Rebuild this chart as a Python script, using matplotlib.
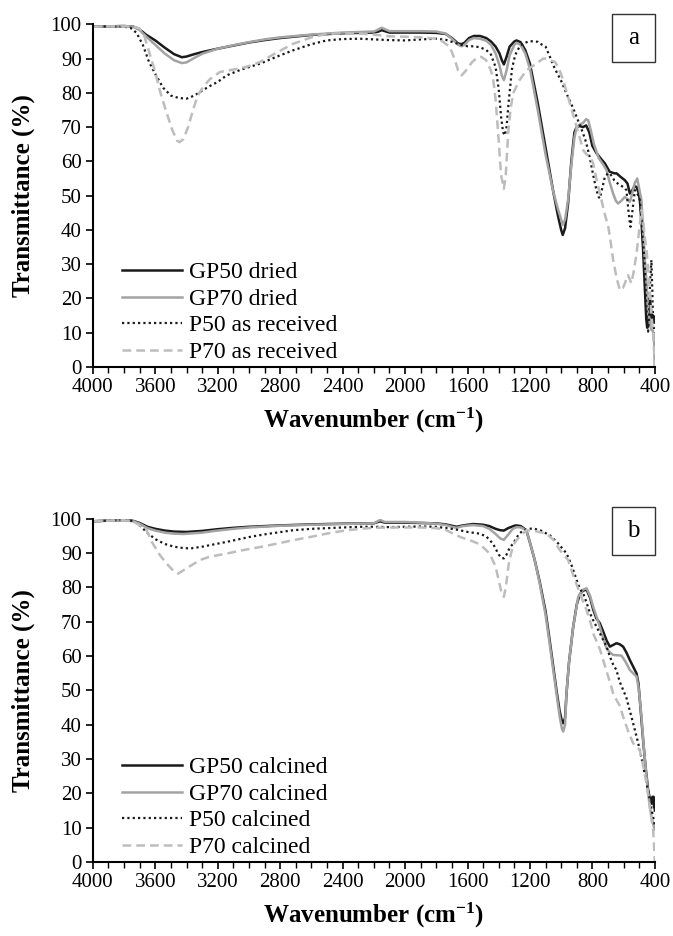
import matplotlib
matplotlib.use("Agg")
import matplotlib.pyplot as plt
from matplotlib.patches import Rectangle
from matplotlib.ticker import MultipleLocator

plt.rcParams['font.family'] = ['Liberation Serif', 'DejaVu Serif']
plt.rcParams['mathtext.fontset'] = 'custom'
plt.rcParams['mathtext.rm'] = 'Liberation Serif:bold'
plt.rcParams['mathtext.bf'] = 'Liberation Serif:bold'
plt.rcParams['mathtext.default'] = 'bf'

# ---- panel a : dried / as received ----
wn_gp50_dried = [4000, 3900, 3800, 3740, 3700, 3660, 3600, 3540, 3480, 3430, 3400, 3350, 3300, 3200, 3100,
                 3000, 2900, 2800, 2600, 2400, 2200, 2170, 2150, 2100, 1900, 1800, 1740, 1700, 1660, 1640,
                 1620, 1590, 1560, 1520, 1480, 1450, 1420, 1395, 1380, 1367, 1350, 1330, 1300, 1286, 1260,
                 1230, 1200, 1150, 1100, 1050, 1020, 1000, 990, 975, 955, 935, 915, 900, 880, 860, 840, 820,
                 800, 775, 750, 720, 690, 660, 645, 620, 592, 575, 560, 545, 530, 517, 505, 496, 485, 475,
                 465, 455, 449, 440, 432, 425, 418, 410, 405, 400]
t_gp50_dried = [99.3, 99.4, 99.5, 99.3, 98.5, 97.0, 95.3, 93.2, 91.3, 90.4, 90.6, 91.3, 91.9, 92.9, 93.8,
                94.7, 95.4, 96.0, 96.9, 97.4, 97.6, 97.9, 98.3, 97.6, 97.6, 97.5, 97.2, 96.0, 94.4, 94.2,
                94.6, 96.0, 96.6, 96.6, 96.0, 95.0, 93.5, 91.5, 89.5, 88.3, 90.5, 93.5, 95.0, 95.3, 94.8,
                92.5, 88.5, 77.0, 64.0, 51.0, 44.0, 40.0, 38.5, 40.5, 48.0, 60.0, 68.5, 70.1, 70.3, 70.0,
                70.5, 68.5, 64.5, 62.5, 61.0, 59.4, 57.0, 56.5, 56.5, 55.5, 54.5, 53.5, 50.6, 51.5, 52.8,
                52.5, 51.0, 48.7, 42.0, 34.0, 24.0, 14.0, 11.5, 13.0, 20.0, 17.0, 13.0, 15.0, 14.0, 13.0]

wn_gp70_dried = [4000, 3900, 3800, 3740, 3700, 3660, 3600, 3540, 3480, 3430, 3400, 3350, 3300, 3200, 3100,
                 3000, 2900, 2800, 2600, 2400, 2200, 2170, 2150, 2100, 1900, 1800, 1740, 1700, 1660, 1640,
                 1620, 1590, 1560, 1520, 1480, 1450, 1420, 1395, 1380, 1367, 1350, 1330, 1300, 1286, 1260,
                 1230, 1200, 1150, 1100, 1050, 1020, 1000, 990, 975, 955, 935, 915, 900, 880, 860, 840, 827,
                 810, 790, 760, 730, 709, 690, 667, 650, 635, 615, 592, 575, 560, 545, 530, 513, 500, 486,
                 475, 465, 453, 443, 432, 422, 412, 405, 402, 400]
t_gp70_dried = [99.3, 99.4, 99.5, 99.3, 98.3, 96.5, 94.0, 91.5, 89.5, 88.7, 88.9, 90.2, 91.4, 92.9, 93.9,
                94.8, 95.6, 96.2, 97.0, 97.6, 97.9, 98.5, 99.0, 98.0, 98.0, 97.9, 97.3, 95.8, 94.0, 93.6,
                94.0, 95.4, 96.0, 95.8, 95.2, 94.0, 91.5, 88.0, 85.0, 83.7, 86.5, 91.0, 94.0, 94.6, 94.0,
                91.5, 87.0, 75.0, 62.0, 51.0, 46.0, 43.0, 41.5, 43.0, 49.0, 59.0, 67.0, 70.0, 70.8, 71.2,
                72.3, 72.0, 69.0, 65.0, 61.0, 59.0, 57.4, 54.0, 50.6, 48.5, 47.7, 48.5, 49.6, 49.0, 48.2,
                50.5, 53.5, 55.0, 52.0, 48.7, 40.0, 32.0, 24.4, 16.0, 12.5, 10.8, 10.5, 8.0, 3.0, 0.0]

wn_p50_received = [4000, 3900, 3800, 3760, 3720, 3680, 3640, 3600, 3550, 3500, 3450, 3400, 3350, 3295, 3250,
                   3200, 3143, 3050, 2930, 2820, 2718, 2600, 2503, 2400, 2290, 2200, 2100, 2000, 1900, 1800,
                   1740, 1694, 1640, 1600, 1560, 1520, 1480, 1450, 1420, 1400, 1385, 1372, 1361, 1350, 1335,
                   1315, 1295, 1270, 1240, 1200, 1150, 1137, 1100, 1072, 1040, 1000, 966, 930, 901, 880, 859,
                   840, 816, 795, 774, 760, 752, 740, 720, 700, 688, 660, 630, 600, 582, 570, 560, 556, 545,
                   528, 515, 496, 480, 464, 455, 448, 443, 437, 430, 422, 416, 411, 405, 400]
t_p50_received = [99.3, 99.4, 99.3, 99.0, 97.5, 94.0, 89.0, 85.5, 81.5, 79.2, 78.5, 78.3, 79.2, 80.8, 82.0,
                  83.2, 85.1, 86.8, 88.5, 90.6, 92.4, 94.2, 95.3, 95.7, 95.8, 95.6, 95.4, 95.3, 95.6, 95.8,
                  95.5, 94.8, 94.0, 93.6, 93.6, 93.3, 92.5, 91.2, 87.5, 81.0, 73.0, 68.5, 67.6, 70.0, 78.0,
                  87.0, 91.0, 93.2, 94.5, 95.1, 94.9, 94.4, 93.5, 90.5, 87.0, 83.5, 79.8, 76.2, 73.0, 70.5,
                  68.1, 65.5, 61.0, 56.0, 51.6, 49.6, 49.2, 51.5, 55.5, 56.5, 56.5, 54.5, 53.2, 52.5, 51.6,
                  46.0, 42.0, 40.9, 45.0, 51.6, 51.0, 48.7, 40.0, 29.2, 18.0, 12.0, 10.3, 15.0, 25.0, 31.2,
                  22.0, 12.8, 11.0, 10.0]

wn_p70_received = [4000, 3900, 3800, 3740, 3700, 3670, 3640, 3600, 3570, 3530, 3490, 3460, 3445, 3420, 3390,
                   3359, 3330, 3295, 3250, 3186, 3100, 3015, 2930, 2820, 2718, 2600, 2503, 2400, 2290, 2200,
                   2100, 2000, 1900, 1800, 1760, 1713, 1680, 1660, 1638, 1610, 1570, 1540, 1511, 1480, 1450,
                   1437, 1420, 1400, 1385, 1367, 1355, 1340, 1325, 1308, 1270, 1222, 1160, 1115, 1094, 1040,
                   1019, 987, 944, 901, 859, 837, 816, 795, 770, 742, 720, 698, 680, 667, 645, 624, 605, 592,
                   572, 560, 550, 535, 517, 500, 486, 475, 465, 453, 440, 425, 411, 405, 400]
t_p70_received = [99.3, 99.4, 99.4, 99.3, 98.8, 96.5, 92.0, 86.0, 80.5, 74.5, 69.0, 66.0, 65.6, 66.5, 70.0,
                  74.9, 79.0, 81.7, 84.0, 86.1, 86.8, 87.6, 89.0, 91.8, 94.3, 96.2, 97.2, 97.4, 97.3, 97.0,
                  96.5, 96.4, 96.2, 95.8, 95.0, 93.4, 89.5, 86.5, 85.1, 86.5, 89.0, 90.2, 90.5, 89.5, 86.5,
                  84.6, 78.0, 66.0, 56.0, 52.0, 56.0, 68.0, 75.0, 79.8, 83.5, 86.6, 88.5, 90.0, 90.0, 89.0,
                  87.6, 83.7, 76.9, 70.1, 63.3, 62.0, 61.5, 59.4, 54.0, 48.7, 44.5, 40.9, 35.5, 31.2, 26.0,
                  22.4, 23.0, 24.4, 26.8, 25.5, 24.4, 28.0, 33.1, 40.0, 45.8, 43.0, 38.0, 34.1, 27.0, 17.0,
                  9.9, 5.0, 0.0]

# ---- panel b : calcined ----
wn_gp50_calc = [4000, 3900, 3800, 3740, 3700, 3650, 3600, 3540, 3480, 3400, 3300, 3200, 3100, 3000, 2800,
                2600, 2400, 2200, 2160, 2130, 2000, 1900, 1800, 1740, 1700, 1670, 1630, 1564, 1500, 1460,
                1420, 1390, 1367, 1340, 1300, 1286, 1260, 1240, 1222, 1200, 1170, 1137, 1100, 1072, 1051,
                1030, 1010, 995, 987, 975, 966, 950, 923, 900, 880, 860, 837, 815, 795, 775, 752, 730, 709,
                688, 667, 646, 625, 603, 582, 560, 540, 517, 505, 496, 485, 475, 460, 443, 430, 420, 415,
                411, 408, 405, 402, 400]
t_gp50_calc = [99.2, 99.4, 99.6, 99.3, 98.7, 97.6, 97.0, 96.5, 96.2, 96.1, 96.4, 96.9, 97.3, 97.6, 98.0,
               98.3, 98.5, 98.6, 99.2, 98.8, 98.8, 98.7, 98.6, 98.3, 97.9, 97.6, 98.0, 98.4, 98.2, 97.8,
               97.0, 96.6, 96.5, 97.2, 97.9, 98.0, 97.8, 97.2, 96.4, 93.0, 88.0, 81.5, 73.0, 64.0, 57.0,
               50.0, 44.0, 41.0, 40.4, 42.0, 49.0, 58.0, 68.5, 75.0, 78.0, 79.0, 79.3, 77.0, 73.5, 71.0,
               69.5, 67.0, 64.5, 62.7, 63.2, 63.7, 63.4, 62.7, 61.0, 58.8, 57.0, 54.9, 52.0, 47.2, 41.0,
               35.5, 28.0, 21.0, 18.0, 17.0, 19.0, 17.5, 19.0, 16.0, 17.0, 15.0]

wn_gp70_calc = [4000, 3900, 3800, 3740, 3700, 3650, 3600, 3540, 3480, 3420, 3300, 3200, 3100, 3000, 2800,
                2600, 2400, 2200, 2160, 2130, 2000, 1900, 1800, 1740, 1700, 1670, 1630, 1564, 1500, 1460,
                1420, 1390, 1367, 1345, 1310, 1286, 1260, 1240, 1222, 1200, 1170, 1137, 1100, 1072, 1051,
                1030, 1010, 995, 987, 975, 966, 950, 923, 891, 860, 837, 815, 795, 770, 752, 730, 709, 688,
                667, 640, 614, 590, 560, 540, 517, 505, 496, 485, 475, 460, 443, 430, 420, 410, 405, 400]
t_gp70_calc = [99.2, 99.4, 99.5, 99.2, 98.5, 97.2, 96.5, 95.9, 95.6, 95.5, 95.9, 96.5, 97.0, 97.4, 97.9,
               98.2, 98.4, 98.6, 99.6, 99.0, 99.0, 98.8, 98.5, 98.1, 97.6, 97.3, 97.8, 98.1, 97.8, 97.0,
               95.5, 94.2, 93.8, 95.0, 97.0, 97.5, 97.4, 97.0, 96.4, 93.0, 88.0, 81.0, 72.0, 63.0, 56.0,
               49.0, 42.5, 38.8, 38.0, 40.0, 49.1, 58.0, 68.5, 77.2, 79.3, 79.7, 77.5, 74.3, 71.0, 68.5,
               65.0, 62.2, 61.0, 60.3, 60.2, 60.1, 58.5, 55.9, 55.0, 54.0, 51.0, 47.2, 42.0, 36.0, 28.0,
               20.0, 15.5, 13.0, 11.0, 10.0, 9.5]

wn_p50_calc = [4000, 3900, 3800, 3740, 3700, 3650, 3600, 3540, 3480, 3420, 3375, 3300, 3200, 3143, 3000,
               2900, 2717, 2600, 2400, 2290, 2200, 2100, 2000, 1900, 1800, 1700, 1650, 1600, 1522, 1480,
               1437, 1400, 1380, 1367, 1350, 1330, 1308, 1270, 1243, 1210, 1179, 1130, 1072, 1020, 965,
               930, 901, 880, 859, 837, 816, 795, 752, 709, 688, 667, 646, 625, 603, 582, 560, 539, 517,
               496, 475, 453, 432, 420, 411, 405, 400]
t_p50_calc = [99.2, 99.4, 99.6, 99.3, 98.0, 95.8, 94.0, 92.6, 91.8, 91.4, 91.3, 91.8, 92.7, 93.2, 94.6,
              95.4, 96.6, 97.0, 97.4, 97.6, 97.6, 97.5, 97.6, 97.7, 97.6, 97.0, 96.6, 96.1, 95.6, 94.8,
              92.7, 89.5, 88.5, 88.4, 89.5, 91.5, 92.7, 95.5, 96.6, 97.0, 97.1, 96.5, 95.1, 92.8, 89.8,
              86.0, 82.1, 79.5, 78.2, 75.5, 72.5, 70.4, 66.6, 62.7, 59.8, 57.5, 55.9, 52.5, 50.1, 47.8,
              44.0, 40.4, 36.5, 32.6, 28.0, 23.0, 18.0, 15.0, 13.3, 11.5, 10.5]

wn_p70_calc = [4000, 3900, 3800, 3740, 3700, 3656, 3620, 3570, 3520, 3480, 3453, 3400, 3315, 3250, 3143,
               3050, 2930, 2820, 2717, 2600, 2503, 2400, 2290, 2200, 2100, 2000, 1900, 1800, 1740, 1692,
               1640, 1586, 1520, 1458, 1420, 1395, 1380, 1367, 1355, 1335, 1310, 1286, 1250, 1222, 1170,
               1094, 1050, 1008, 955, 923, 880, 837, 816, 790, 752, 731, 709, 688, 667, 646, 624, 603, 570,
               539, 517, 496, 475, 453, 432, 420, 411, 405, 400]
t_p70_calc = [99.2, 99.4, 99.5, 99.2, 98.0, 96.6, 93.0, 89.3, 86.5, 84.6, 84.0, 85.5, 87.9, 88.9, 89.8,
              90.7, 91.7, 92.7, 93.7, 94.7, 95.6, 96.4, 97.0, 97.3, 97.4, 97.4, 97.4, 97.2, 96.7, 95.6,
              94.5, 93.7, 92.5, 89.8, 86.0, 81.0, 78.0, 77.2, 80.0, 87.0, 92.0, 93.7, 95.5, 96.6, 96.4,
              95.6, 93.8, 90.8, 87.9, 83.5, 78.2, 73.3, 70.4, 66.0, 62.0, 58.8, 55.5, 52.5, 49.1, 47.2,
              45.5, 42.3, 38.0, 34.6, 33.6, 32.6, 28.0, 23.0, 16.0, 12.0, 9.4, 5.0, 0.0]

labels_a = ['GP50 dried', 'GP70 dried', 'P50 as received', 'P70 as received']
labels_b = ['GP50 calcined', 'GP70 calcined', 'P50 calcined', 'P70 calcined']

styles = [dict(color='#1a1a1a', lw=1.8, ls='-'),
          dict(color='#a3a3a3', lw=1.8, ls='-'),
          dict(color='#1a1a1a', lw=1.6, ls=(0, (1, 1.4))),
          dict(color='#bdbdbd', lw=1.8, ls=(0, (3.5, 2)))]

fig = plt.figure(figsize=(6.73, 9.36), dpi=100)
ax_a = fig.add_axes([0.138, 0.608, 0.835, 0.366])
ax_b = fig.add_axes([0.138, 0.079, 0.835, 0.367])


def draw(ax, series, labels, letter, box_y):
    for (wn, t), lab, st in zip(series, labels, styles):
        ax.plot(wn, t, label=lab, **st)
    ax.set_xlim(4000, 400)
    ax.set_ylim(0, 100)
    ax.xaxis.set_major_locator(MultipleLocator(400))
    ax.xaxis.set_minor_locator(MultipleLocator(100))
    ax.yaxis.set_major_locator(MultipleLocator(10))
    ax.spines['top'].set_visible(False)
    ax.spines['right'].set_visible(False)
    ax.spines['left'].set_linewidth(1.5)
    ax.spines['bottom'].set_linewidth(1.5)
    ax.tick_params(which='major', length=5, width=1.2, labelsize=15, pad=3)
    ax.tick_params(which='minor', length=4, width=1.0)
    ax.set_ylabel('Transmittance (%)', fontsize=18, fontweight='bold', labelpad=11)
    ax.set_xlabel('Wavenumber (cm$^{-1}$)', fontsize=18, fontweight='bold', labelpad=6)
    ax.legend(loc='lower left', bbox_to_anchor=(0.052, 0.012), frameon=False, fontsize=17,
              handlelength=2.55, handletextpad=0.3, labelspacing=0.21, borderpad=0,
              borderaxespad=0)
    ax.add_patch(Rectangle((0.9235, box_y), 0.0765, 0.14, transform=ax.transAxes, fill=False,
                           edgecolor='#333333', lw=1.0, clip_on=False))
    ax.text(0.9235 + 0.0765 / 2, box_y + 0.07, letter, transform=ax.transAxes, ha='center',
            va='center', fontsize=18)


draw(ax_a, [(wn_gp50_dried, t_gp50_dried), (wn_gp70_dried, t_gp70_dried),
            (wn_p50_received, t_p50_received), (wn_p70_received, t_p70_received)], labels_a, 'a', 0.889)
draw(ax_b, [(wn_gp50_calc, t_gp50_calc), (wn_gp70_calc, t_gp70_calc),
            (wn_p50_calc, t_p50_calc), (wn_p70_calc, t_p70_calc)], labels_b, 'b', 0.895)

fig.savefig('out.png', dpi=100)
